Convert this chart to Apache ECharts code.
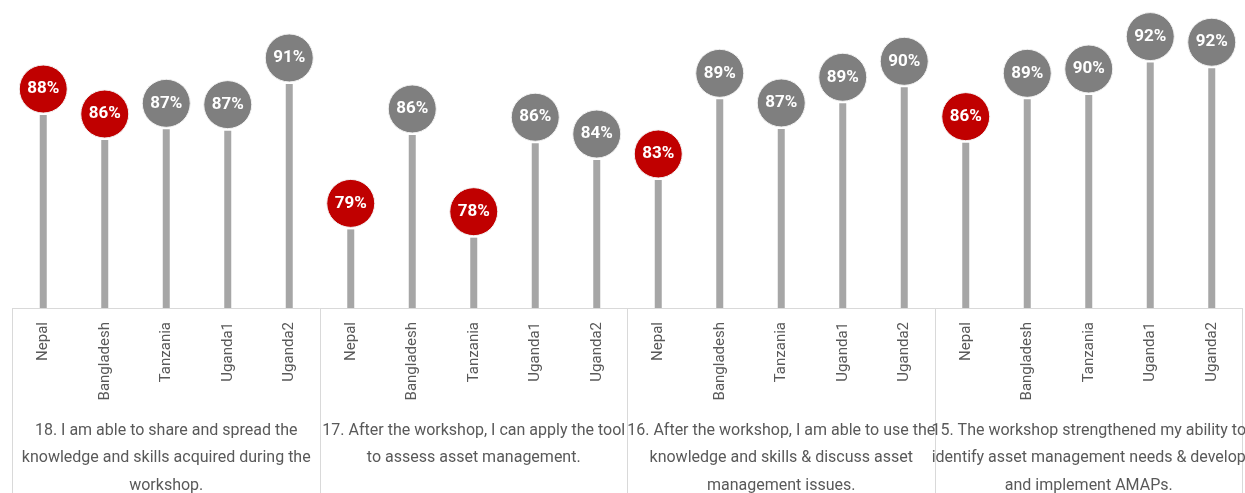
<!DOCTYPE html>
<html>
<head>
<meta charset="utf-8">
<script src="https://cdn.jsdelivr.net/npm/echarts@6/dist/echarts.min.js"></script>
<style>
html,body{margin:0;padding:0;background:#fff;}
#chart{width:1245px;height:493px;}
</style>
</head>
<body>
<div id="chart"></div>
<script>
const countries = ["Nepal","Bangladesh","Tanzania","Uganda1","Uganda2"];
const groups = [
  "18. I am able to share and spread the\nknowledge and skills acquired during the\nworkshop.",
  "17. After the workshop, I can apply the tool\nto assess asset management.",
  "16. After the workshop, I am able to use the\nknowledge and skills & discuss asset\nmanagement issues.",
  "15. The workshop strengthened my ability to\nidentify asset management needs & develop\nand implement AMAPs."
];
const q18 = [88.08, 86.0, 86.89, 86.78, 90.67];
const q17 = [78.55, 86.42, 77.86, 85.73, 84.33];
const q16 = [82.67, 89.39, 86.92, 89.06, 90.39];
const q15 = [85.78, 89.39, 89.75, 92.45, 91.98];
const flagged18 = [true, true, false, false, false];
const flagged17 = [true, false, true, false, false];
const flagged16 = [true, false, false, false, false];
const flagged15 = [true, false, false, false, false];

const values = [].concat(q18, q17, q16, q15);
const flags = [].concat(flagged18, flagged17, flagged16, flagged15);
const cats = [].concat(countries, countries, countries, countries);

const FONT = "Roboto, 'Liberation Sans', sans-serif";
const RED = '#c00000', GREY = '#7f7f7f';

const chart = echarts.init(document.getElementById('chart'), null, {renderer:'canvas'});
chart.setOption({
  animation: false,
  grid: {left: 12.5, right: 2.5, top: 8, bottom: 185, containLabel: false, outerBoundsMode: 'none'},
  xAxis: [{
    type: 'category',
    data: cats,
    position: 'bottom',
    axisLine: {show: true, lineStyle: {color: '#d9d9d9', width: 1}},
    axisTick: {show: false},
    axisLabel: {rotate: 90, interval: 0, margin: 14, fontSize: 15, color: '#595959', fontFamily: FONT}
  }, {
    type: 'category',
    data: groups,
    position: 'bottom',
    axisLine: {show: false},
    axisTick: {show: true, length: 185, lineStyle: {color: '#d9d9d9', width: 1}},
    axisLabel: {interval: 0, margin: 109, fontSize: 16, lineHeight: 27.5, color: '#595959', fontFamily: FONT, align: 'center'}
  }],
  yAxis: {type: 'value', min: 72, max: 97, show: false, splitLine: {show: false}},
  series: [{
    type: 'bar',
    xAxisIndex: 0,
    data: values,
    barWidth: 7,
    itemStyle: {color: '#a6a6a6'},
    silent: true
  }, {
    type: 'scatter',
    xAxisIndex: 0,
    data: values.map((v, i) => ({value: v, itemStyle: {color: flags[i] ? RED : GREY}})),
    symbol: 'circle',
    symbolSize: 48,
    symbolOffset: [0, -26],
    itemStyle: {borderColor: '#f2f2f2', borderWidth: 1, opacity: 1},
    label: {
      show: true,
      position: 'inside',
      formatter: p => Math.round(p.value) + '%',
      color: '#ffffff',
      fontWeight: 'bold',
      fontSize: 17,
      fontFamily: FONT
    },
    z: 5
  }]
});
</script>
</body>
</html>
